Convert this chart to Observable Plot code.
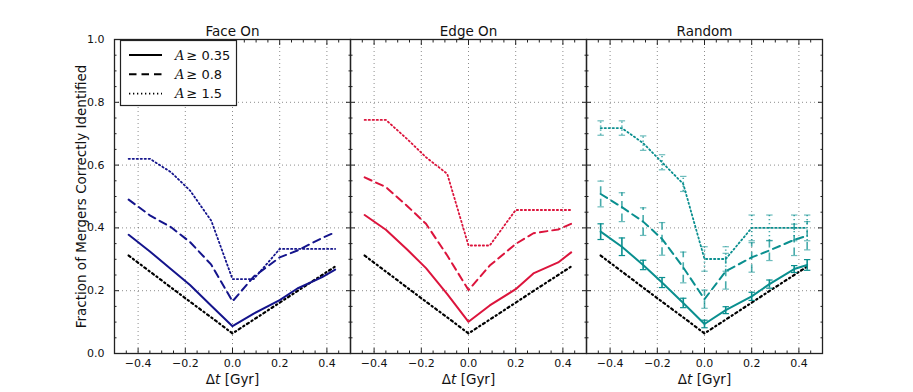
<!DOCTYPE html>
<html><head><meta charset="utf-8">
<script src="https://cdn.jsdelivr.net/npm/d3@7"></script>
<script src="https://cdn.jsdelivr.net/npm/@observablehq/plot@0.6"></script>
<style>
  body { margin: 0; background: #fff; }
  svg { font-family: "DejaVu Sans"; }
</style>
</head><body><div id="chart"></div>
<script>
// ---- data ----
const panels = ["Face On", "Edge On", "Random"];
const panelColors = ["#14148c", "#dc143c", "#0a8f8f"];
const dt = [-0.44, -0.35, -0.26, -0.18, -0.09, 0.0, 0.09, 0.2, 0.275, 0.38, 0.435];

const faceOn035 = [0.378, 0.325, 0.268, 0.218, 0.152, 0.087, 0.127, 0.170, 0.207, 0.243, 0.267];
const faceOn08  = [0.490, 0.440, 0.402, 0.355, 0.283, 0.166, 0.245, 0.306, 0.328, 0.368, 0.386];
const faceOn15  = [0.620, 0.620, 0.577, 0.519, 0.423, 0.237, 0.237, 0.333, 0.333, 0.333, 0.333];

const edgeOn035 = [0.441, 0.394, 0.331, 0.272, 0.189, 0.101, 0.153, 0.205, 0.255, 0.290, 0.322];
const edgeOn08  = [0.561, 0.530, 0.470, 0.413, 0.312, 0.202, 0.280, 0.349, 0.383, 0.395, 0.413];
const edgeOn15  = [0.744, 0.744, 0.683, 0.625, 0.572, 0.344, 0.344, 0.457, 0.457, 0.457, 0.457];

const random035 = [0.388, 0.340, 0.282, 0.226, 0.161, 0.094, 0.138, 0.182, 0.221, 0.269, 0.282];
const random08  = [0.508, 0.466, 0.420, 0.365, 0.274, 0.173, 0.262, 0.306, 0.328, 0.362, 0.375];
const random15  = [0.718, 0.718, 0.670, 0.609, 0.540, 0.301, 0.301, 0.400, 0.400, 0.400, 0.400];

const random035Err = [0.025, 0.028, 0.015, 0.016, 0.015, 0.012, 0.011, 0.013, 0.013, 0.011, 0.017];
const random08Err  = [0.041, 0.046, 0.044, 0.052, 0.049, 0.029, 0.057, 0.047, 0.032, 0.050, 0.045];
const random15Err  = [0.023, 0.023, 0.023, 0.024, 0.024, 0.039, 0.039, 0.041, 0.041, 0.041, 0.041];

const baseline = [0.312, 0.261, 0.210, 0.165, 0.115, 0.064, 0.108, 0.162, 0.199, 0.250, 0.277];

const thresholds = [["A", "≥ 0.35"], ["A", "≥ 0.8"], ["A", "≥ 1.5"]];
const xMajor = [-0.4, -0.2, 0.0, 0.2, 0.4];
const xMinor = [-0.45, -0.35, -0.3, -0.25, -0.15, -0.1, -0.05, 0.05, 0.1, 0.15, 0.25, 0.3, 0.35, 0.45];
const yMajor = [0.0, 0.2, 0.4, 0.6, 0.8, 1.0];
const yMinor = [0.05, 0.1, 0.15, 0.25, 0.3, 0.35, 0.45, 0.5, 0.55, 0.65, 0.7, 0.75, 0.85, 0.9, 0.95];
const yGrid = [0.2, 0.4, 0.6, 0.8];

// ---- tables ----
const seriesByPanel = {
  "Face On": [faceOn035, faceOn08, faceOn15],
  "Edge On": [edgeOn035, edgeOn08, edgeOn15],
  "Random":  [random035, random08, random15]
};
const errByPanel = { "Random": [random035Err, random08Err, random15Err] };

function rowsFor(k) {
  const out = [];
  for (const p of panels) {
    const vals = seriesByPanel[p][k];
    const errs = errByPanel[p] ? errByPanel[p][k] : null;
    dt.forEach((x, i) => out.push({panel: p, dt: x, v: vals[i], e: errs ? errs[i] : null}));
  }
  return out;
}
const rows = [rowsFor(0), rowsFor(1), rowsFor(2)];
const baseRows = panels.flatMap(p => dt.map((x, i) => ({panel: p, dt: x, v: baseline[i]})));

const dashes = [null, "7.5,5", "1.3,2.7"];
const widths = [2, 2, 1.8];

const capSymbol = {
  draw(context, size) {
    const w = Math.sqrt(size / Math.PI);
    context.moveTo(-w, 0);
    context.lineTo(w, 0);
  }
};

const marks = [
  Plot.gridX(xMajor, {stroke: "#000", strokeOpacity: 0.45, strokeDasharray: "1,3"}),
  Plot.gridY(yGrid, {stroke: "#000", strokeOpacity: 0.45, strokeDasharray: "1,3"}),
  Plot.line(baseRows, {x: "dt", y: "v", fx: "panel", stroke: "black", strokeWidth: 2.2, strokeDasharray: "2.2,3.2,1.2,3.2"})
];
for (let k = 0; k < 3; k++) {
  const errRows = rows[k].filter(d => d.e != null);
  marks.push(
    Plot.ruleX(errRows, {x: "dt", y1: d => d.v - d.e, y2: d => d.v + d.e, fx: "panel", stroke: "panel", strokeWidth: 1.6, strokeDasharray: dashes[k], strokeOpacity: k === 0 ? 1 : 0.75}),
    Plot.dot(errRows, {x: "dt", y: d => d.v + d.e, fx: "panel", stroke: "panel", symbol: capSymbol, r: 3.2, strokeWidth: 1.2, strokeOpacity: k === 0 ? 1 : 0.6}),
    Plot.dot(errRows, {x: "dt", y: d => d.v - d.e, fx: "panel", stroke: "panel", symbol: capSymbol, r: 3.2, strokeWidth: 1.2, strokeOpacity: k === 0 ? 1 : 0.6}),
    Plot.line(rows[k], {x: "dt", y: "v", fx: "panel", stroke: "panel", strokeWidth: widths[k], strokeDasharray: dashes[k]})
  );
}
marks.push(
  Plot.frame({stroke: "#222", strokeWidth: 1.3}),
  // inward ticks on all sides
  Plot.axisX(xMajor, {anchor: "bottom", tickSize: 5, dy: -5, fill: "none", facetAnchor: null, stroke: "#222"}),
  Plot.axisX(xMajor, {anchor: "top", tickSize: 5, dy: 5, fill: "none", facetAnchor: null, stroke: "#222"}),
  Plot.axisX(xMinor, {anchor: "bottom", tickSize: 2.5, dy: -2.5, fill: "none", facetAnchor: null, stroke: "#222"}),
  Plot.axisX(xMinor, {anchor: "top", tickSize: 2.5, dy: 2.5, fill: "none", facetAnchor: null, stroke: "#222"}),
  Plot.axisY(yMajor, {anchor: "left", tickSize: 5, dx: 5, fill: "none", facetAnchor: null, stroke: "#222"}),
  Plot.axisY(yMajor, {anchor: "right", tickSize: 5, dx: -5, fill: "none", facetAnchor: null, stroke: "#222"}),
  Plot.axisY(yMinor, {anchor: "left", tickSize: 2.5, dx: 2.5, fill: "none", facetAnchor: null, stroke: "#222"}),
  Plot.axisY(yMinor, {anchor: "right", tickSize: 2.5, dx: -2.5, fill: "none", facetAnchor: null, stroke: "#222"}),
  // tick labels
  Plot.axisX(xMajor, {anchor: "bottom", tickSize: 0, tickPadding: 6, tickFormat: ".1f", fontSize: 11, label: null, fill: "#111"}),
  Plot.axisY(yMajor, {anchor: "left", tickSize: 0, tickPadding: 10, tickFormat: ".1f", fontSize: 11, label: null, fill: "#111"}),
  Plot.axisFx({anchor: "top", tickSize: 0, tickPadding: 4, fontSize: 13.5, label: null, fill: "#111"}),
  // axis titles
  Plot.text(panels, {fx: d => d, frameAnchor: "bottom", lineAnchor: "middle", textAnchor: "middle", dy: 26, text: () => "Δt [Gyr]", fontSize: 13.5, fill: "#111"}),
  Plot.text(["Fraction of Mergers Correctly Identified"], {fx: () => "Face On", frameAnchor: "left", textAnchor: "middle", lineAnchor: "middle", rotate: -90, dx: -33, text: d => d, fontSize: 13.5, fill: "#111"})
);

const svg = Plot.plot({
  width: 913,
  height: 392,
  marginLeft: 114,
  marginRight: 91,
  marginTop: 39,
  marginBottom: 39,
  style: {fontFamily: "DejaVu Sans", fontSize: "11px", background: "#fff"},
  x: {domain: [-0.5, 0.5], label: null},
  y: {domain: [0, 1], label: null},
  fx: {domain: panels, padding: 0, label: null},
  color: {domain: panels, range: panelColors},
  marks
});
document.getElementById("chart").appendChild(svg);

// italic math variables in labels
d3.select(svg).selectAll("text").filter(function () { return this.textContent === "Δt [Gyr]"; })
  .each(function () {
    const t = d3.select(this);
    t.text(null);
    t.append("tspan").text("Δ");
    t.append("tspan").attr("font-style", "italic").text("t");
    t.append("tspan").text(" [Gyr]");
  });

// legend inside the Face On panel
const lg = d3.select(svg).append("g").attr("class", "legend").attr("text-anchor", "start");
lg.append("rect").attr("x", 120.5).attr("y", 40.5).attr("width", 116).attr("height", 65)
  .attr("fill", "#fff").attr("stroke", "#222").attr("stroke-width", 1.2);
thresholds.forEach((label, k) => {
  const cy = 55 + k * 19.3;
  lg.append("line").attr("x1", 129).attr("x2", 162).attr("y1", cy).attr("y2", cy)
    .attr("stroke", "#000").attr("stroke-width", widths[k])
    .attr("stroke-dasharray", dashes[k] || null);
  const tx = lg.append("text").attr("x", 175).attr("y", cy + 4.5).attr("font-size", 13).attr("fill", "#111")
    .attr("text-anchor", "start");
  tx.append("tspan").attr("font-style", "italic").attr("font-family", "DejaVu Serif").text(label[0]);
  tx.append("tspan").attr("dx", 2).text(label[1]);
});
</script>
</body></html>
